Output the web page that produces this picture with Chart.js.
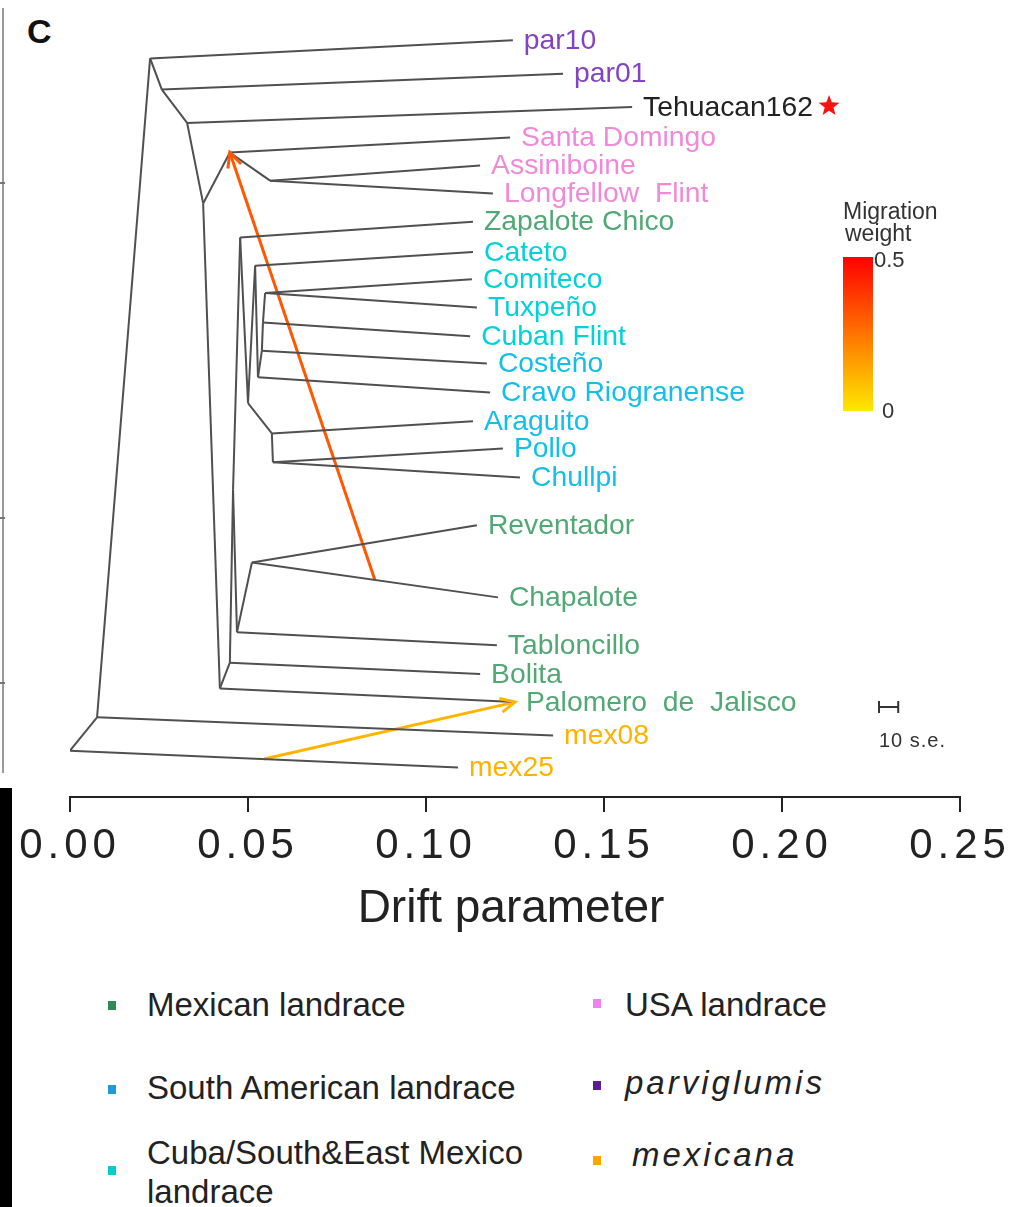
<!DOCTYPE html>
<html>
<head>
<meta charset="utf-8">
<script src="https://cdn.jsdelivr.net/npm/chart.js@4.4.1/dist/chart.umd.min.js"></script>
<style>
  body { margin: 0; background: #fff; width: 1013px; height: 1207px; position: relative; overflow: hidden;
         font-family: "Liberation Sans", Arial, sans-serif; }
  #wrap { position: absolute; left: 0; top: 0; }
  .sq { position: absolute; width: 8px; height: 9px; }
  .lg { position: absolute; font-size: 33px; line-height: 38px; color: #222; white-space: nowrap; }
  .it { font-style: italic; letter-spacing: 3px; }
</style>
</head>
<body>
<div style="position:absolute;left:2px;top:8px;width:2px;height:765px;background:#9a9a9a"></div>
<div style="position:absolute;left:0;top:182px;width:5px;height:2px;background:#777"></div>
<div style="position:absolute;left:0;top:517px;width:5px;height:2px;background:#777"></div>
<div style="position:absolute;left:0;top:682px;width:5px;height:2px;background:#777"></div>
<div style="position:absolute;left:0;top:788px;width:12px;height:419px;background:#000"></div>
<div style="position:absolute;left:27px;top:12px;font-size:34px;font-weight:bold;color:#111">C</div>

<div id="wrap"><canvas id="myChart" width="1013" height="960"></canvas></div>

<!-- legend -->
<div class="sq" style="left:108px;top:1001px;background:#2e8b57"></div>
<div class="lg" style="left:147px;top:986px">Mexican landrace</div>
<div class="sq" style="left:593px;top:999px;background:#ee82ee"></div>
<div class="lg" style="left:625px;top:986px">USA landrace</div>
<div class="sq" style="left:108px;top:1085px;background:#1e9ad6"></div>
<div class="lg" style="left:147px;top:1069px">South American landrace</div>
<div class="sq" style="left:593px;top:1081px;background:#5a1d96"></div>
<div class="lg it" style="left:625px;top:1064px">parviglumis</div>
<div class="sq" style="left:108px;top:1166px;background:#00cccc"></div>
<div class="lg" style="left:147px;top:1133px;line-height:39px">Cuba/South&amp;East Mexico<br>landrace</div>
<div class="sq" style="left:593px;top:1156px;background:#ffa500"></div>
<div class="lg it" style="left:632px;top:1136px">mexicana</div>

<script>
// tips of the tree, top to bottom (drift = x, yPos = vertical layout 0..1)
var leafNames = ["par10", "par01", "Tehuacan162", "Santa Domingo", "Assiniboine", "Longfellow  Flint",
  "Zapalote Chico", "Cateto", "Comiteco", "Tuxpeño", "Cuban Flint", "Costeño", "Cravo Riogranense",
  "Araguito", "Pollo", "Chullpi", "Reventador", "Chapalote", "Tabloncillo", "Bolita",
  "Palomero  de  Jalisco", "mex08", "mex25"];
var leafDrift = [0.1244, 0.1385, 0.1579, 0.1236, 0.1152, 0.1188, 0.1132, 0.1132, 0.1129, 0.1143, 0.1124,
  0.1171, 0.1180, 0.1132, 0.1216, 0.1264, 0.1143, 0.1202, 0.1199, 0.1152, 0.1250, 0.1357, 0.1090];
var leafY = [0.979, 0.935, 0.891, 0.851, 0.814, 0.777, 0.740, 0.700, 0.664, 0.627, 0.589, 0.553, 0.515,
  0.477, 0.441, 0.403, 0.340, 0.245, 0.182, 0.144, 0.107, 0.063, 0.021];
var leafGroup = ["parv", "parv", "teh", "usa", "usa", "usa", "mex", "cuba", "cuba", "cuba", "cuba",
  "sam", "sam", "sam", "sam", "sam", "mex", "mex", "mex", "mex", "mex", "mexi", "mexi"];

// internal nodes
var nodeNames = ["R", "N1", "N2", "N3", "N4", "N5", "N6", "N8", "N7", "N9", "W", "Z", "F", "A", "B", "C", "D", "E", "H", "I", "T", "RC"];
var nodeDrift = [0, 0.0076, 0.0225, 0.0258, 0.0329, 0.0374, 0.0449, 0.0562, 0.0421, 0.0449, 0.0458,
  0.0478, 0.0500, 0.0520, 0.0528, 0.0539, 0.0542, 0.0548, 0.0567, 0.0570, 0.0469, 0.0511];
var nodeY = [0.043, 0.087, 0.955, 0.914, 0.870, 0.764, 0.831, 0.794, 0.125, 0.159, 0.387, 0.719, 0.501,
  0.682, 0.535, 0.570, 0.607, 0.646, 0.461, 0.423, 0.199, 0.291];

// parent -> child
var edges = [["R", "N1"], ["R", "mex25"], ["N1", "N2"], ["N1", "mex08"], ["N2", "par10"], ["N2", "N3"],
  ["N3", "par01"], ["N3", "N4"], ["N4", "Tehuacan162"], ["N4", "N5"], ["N5", "N6"], ["N5", "N7"],
  ["N6", "Santa Domingo"], ["N6", "N8"], ["N8", "Assiniboine"], ["N8", "Longfellow  Flint"],
  ["N7", "N9"], ["N7", "Palomero  de  Jalisco"], ["N9", "W"], ["N9", "Bolita"], ["W", "Z"], ["W", "T"],
  ["Z", "Zapalote Chico"], ["Z", "F"], ["F", "A"], ["F", "H"], ["A", "Cateto"], ["A", "B"],
  ["B", "C"], ["B", "Cravo Riogranense"], ["C", "D"], ["C", "Costeño"], ["D", "E"], ["D", "Cuban Flint"],
  ["E", "Comiteco"], ["E", "Tuxpeño"], ["H", "Araguito"], ["H", "I"], ["I", "Pollo"], ["I", "Chullpi"],
  ["T", "RC"], ["T", "Tabloncillo"], ["RC", "Reventador"], ["RC", "Chapalote"]];

// migration edges: source sits part way along an edge
var migFromEdge = [["RC", "Chapalote"], ["R", "mex25"]];
var migFrac = [0.5, 0.5];
var migTo = ["N6", "Palomero  de  Jalisco"];
var migWeight = [0.31, 0.11];

var tickValues = [0, 0.05, 0.10, 0.15, 0.20, 0.25];
var seBar = 0.0054; // 10 s.e.

var groupColor = { parv: "#8244c2", teh: "#222222", usa: "#f08ad8", mex: "#52a874",
  cuba: "#00d2dc", sam: "#12bfe9", mexi: "#ffb300" };

function heat(w) {
  var t = Math.min(w / 0.5, 1);
  return "rgb(255," + Math.round(232 * (1 - t)) + ",0)";
}

var pos = {};
leafNames.forEach(function (n, i) { pos[n] = { x: leafDrift[i], y: leafY[i] }; });
nodeNames.forEach(function (n, i) { pos[n] = { x: nodeDrift[i], y: nodeY[i] }; });

var datasets = edges.map(function (e) {
  return { data: [{ x: pos[e[0]].x, y: pos[e[0]].y }, { x: pos[e[1]].x, y: pos[e[1]].y }],
    showLine: true, borderColor: "#505050", borderWidth: 2, pointRadius: 0 };
});

var migStart = migFromEdge.map(function (e, i) {
  var p = pos[e[0]], c = pos[e[1]], f = migFrac[i];
  return { x: p.x + f * (c.x - p.x), y: p.y + f * (c.y - p.y) };
});
migTo.forEach(function (t, i) {
  datasets.push({ data: [migStart[i], { x: pos[t].x, y: pos[t].y }], showLine: true,
    borderColor: heat(migWeight[i]), borderWidth: 3, pointRadius: 0 });
});

function star(ctx, cx, cy, ro, ri) {
  ctx.beginPath();
  for (var k = 0; k < 10; k++) {
    var r = k % 2 ? ri : ro, a = -Math.PI / 2 + k * Math.PI / 5;
    ctx.lineTo(cx + r * Math.cos(a), cy + r * Math.sin(a));
  }
  ctx.closePath();
  ctx.fill();
}

var treeText = {
  id: "treeText",
  beforeDraw: function (c) { c.ctx.letterSpacing = "5px"; },
  beforeDatasetsDraw: function (c) { c.ctx.letterSpacing = "0px"; },
  afterDatasetsDraw: function (c) {
    var ctx = c.ctx, xs = c.scales.x, ys = c.scales.y;
    ctx.save();
    // arrow heads
    migTo.forEach(function (t, i) {
      var x0 = xs.getPixelForValue(migStart[i].x), y0 = ys.getPixelForValue(migStart[i].y);
      var x1 = xs.getPixelForValue(pos[t].x), y1 = ys.getPixelForValue(pos[t].y);
      var a = Math.atan2(y1 - y0, x1 - x0), L = 16;
      ctx.strokeStyle = heat(migWeight[i]);
      ctx.lineWidth = 3;
      ctx.beginPath();
      ctx.moveTo(x1 - L * Math.cos(a - 0.45), y1 - L * Math.sin(a - 0.45));
      ctx.lineTo(x1, y1);
      ctx.lineTo(x1 - L * Math.cos(a + 0.45), y1 - L * Math.sin(a + 0.45));
      ctx.stroke();
    });
    // tip labels
    ctx.font = '28.3px "Liberation Sans"';
    ctx.textBaseline = "middle";
    ctx.textAlign = "left";
    leafNames.forEach(function (n, i) {
      var px = xs.getPixelForValue(leafDrift[i]) + 11, py = ys.getPixelForValue(leafY[i]) + 1;
      ctx.fillStyle = groupColor[leafGroup[i]];
      ctx.fillText(n, px, py);
      if (n === "Tehuacan162") {
        ctx.fillStyle = "#ff1010";
        star(ctx, px + ctx.measureText(n).width + 16, py - 2, 11, 4.6);
      }
    });
    // axis title
    ctx.fillStyle = "#222";
    ctx.font = '46px "Liberation Sans"';
    ctx.textAlign = "center";
    ctx.textBaseline = "alphabetic";
    ctx.fillText("Drift parameter", (c.chartArea.left + c.chartArea.right) / 2 - 4, 922);
    // migration weight colour bar
    ctx.textAlign = "left";
    ctx.font = '23px "Liberation Sans"';
    ctx.fillStyle = "#333";
    ctx.fillText("Migration", 843, 219);
    ctx.fillText("weight", 845, 241);
    var g = ctx.createLinearGradient(0, 257, 0, 411);
    g.addColorStop(0, heat(0.5));
    g.addColorStop(1, heat(0));
    ctx.fillStyle = g;
    ctx.fillRect(843, 257, 30, 154);
    ctx.fillStyle = "#333";
    ctx.font = '22px "Liberation Sans"';
    ctx.fillText("0.5", 874, 267);
    ctx.fillText("0", 882, 418);
    // scale bar
    var sx0 = 879, sx1 = sx0 + (xs.getPixelForValue(seBar) - xs.getPixelForValue(0));
    ctx.strokeStyle = "#333";
    ctx.lineWidth = 2;
    ctx.beginPath();
    ctx.moveTo(sx0, 707); ctx.lineTo(sx1, 707);
    ctx.moveTo(sx0, 701); ctx.lineTo(sx0, 713);
    ctx.moveTo(sx1, 701); ctx.lineTo(sx1, 713);
    ctx.stroke();
    ctx.font = '20px "Liberation Sans"';
    ctx.letterSpacing = "1px";
    ctx.fillText("10 s.e.", 879, 747);
    ctx.restore();
  }
};

new Chart("myChart", {
  type: "scatter",
  data: { datasets: datasets },
  options: {
    responsive: false,
    animation: false,
    layout: { padding: { left: 70, right: 53, top: 0, bottom: 0 } },
    plugins: { legend: { display: false }, tooltip: { enabled: false } },
    scales: {
      x: {
        type: "linear", min: 0, max: 0.25, position: "bottom",
        afterFit: function (s) { s.height = 163; },
        afterBuildTicks: function (s) { s.ticks = tickValues.map(function (v) { return { value: v }; }); },
        border: { display: true, color: "#222", width: 2 },
        grid: { display: true, drawOnChartArea: false, drawTicks: true, tickLength: 15, color: "#222", lineWidth: 2 },
        ticks: { autoSkip: false, maxRotation: 0, padding: 9, color: "#222",
          font: { family: "Liberation Sans", size: 42 },
          callback: function (v) { return v.toFixed(2); } }
      },
      y: { type: "linear", display: false, min: -0.018, max: 1.032 }
    }
  },
  plugins: [treeText]
});
</script>
</body>
</html>
